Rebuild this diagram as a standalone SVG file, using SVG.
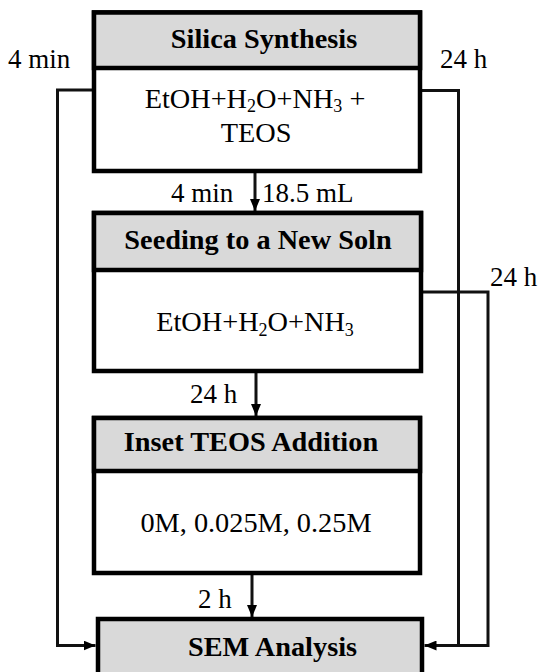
<svg xmlns="http://www.w3.org/2000/svg" width="541" height="672" viewBox="0 0 541 672" font-family="'Liberation Serif', Tinos, 'Times New Roman', 'DejaVu Serif', serif">
<defs>
<style>
text{font-family:'Liberation Serif', Tinos, 'Times New Roman', 'DejaVu Serif', serif}
.box{fill:#ffffff;stroke:#000;stroke-width:4.5}
.hdr{fill:#d9d9d9;stroke:#000;stroke-width:4.5}
.t{font-size:27px;fill:#000}
.n{font-size:28.3px;fill:#000}
.b{font-weight:bold}
.c{text-anchor:middle}
.ln{fill:none;stroke:#111;stroke-width:3}
</style>
<marker id="ah" markerUnits="userSpaceOnUse" markerWidth="12" markerHeight="10" refX="12" refY="5" orient="auto">
<path d="M0,0 L12,5 L0,10 z" fill="#000"/>
</marker>
</defs>
<rect width="541" height="672" fill="#fff"/>

<g id="connectors">
<path class="ln" d="M94,90 H57.5 V645.5 H95.5" marker-end="url(#ah)"/>
<path class="ln" d="M420,90.5 H458.5 V645.5"/>
<path class="ln" d="M421,292 H488 V645.5 H424.5" marker-end="url(#ah)"/>
<path class="ln" d="M255,171 V211" marker-end="url(#ah)"/>
<path class="ln" d="M256,371 V416" marker-end="url(#ah)"/>
<path class="ln" d="M252,573 V617" marker-end="url(#ah)"/>
</g>

<g id="labels">
<text class="t" x="8" y="68">4 min</text>
<text class="t" x="440" y="68">24 h</text>
<text class="t" x="171" y="202">4 min</text>
<text class="t" x="262" y="202">18.5 mL</text>
<text class="t" x="490" y="286">24 h</text>
<text class="t" x="190" y="403">24 h</text>
<text class="t" x="198" y="608">2 h</text>
</g>

<g id="silica-synthesis">
<rect class="box" x="94" y="12.5" width="326" height="158.5"/>
<rect class="hdr" x="94" y="12.5" width="326" height="55.5"/>
<text class="n b c" x="264" y="47.5">Silica Synthesis</text>
<text class="n c" x="255" y="108">EtOH+H<tspan font-size="18" dy="4">2</tspan><tspan dy="-4">O+NH</tspan><tspan font-size="18" dy="4">3</tspan><tspan dy="-4"> +</tspan></text>
<text class="n c" x="256" y="141.5">TEOS</text>
</g>

<g id="seeding">
<rect class="box" x="94" y="213" width="327" height="158"/>
<rect class="hdr" x="94" y="213" width="327" height="57"/>
<text class="n b c" x="258" y="248.5">Seeding to a New Soln</text>
<text class="n c" x="255" y="331">EtOH+H<tspan font-size="18" dy="5">2</tspan><tspan dy="-5">O+NH</tspan><tspan font-size="18" dy="5">3</tspan></text>
</g>

<g id="inset-teos">
<rect class="box" x="94" y="418" width="326" height="155"/>
<rect class="hdr" x="94" y="418" width="326" height="53"/>
<text class="n b c" x="251" y="450.5">Inset TEOS Addition</text>
<text class="n c" x="256" y="531.5">0M, 0.025M, 0.25M</text>
</g>

<g id="sem-analysis">
<rect class="hdr" x="98" y="619" width="324" height="80"/>
<text class="n b c" x="272.5" y="655.5">SEM Analysis</text>
</g>
</svg>
